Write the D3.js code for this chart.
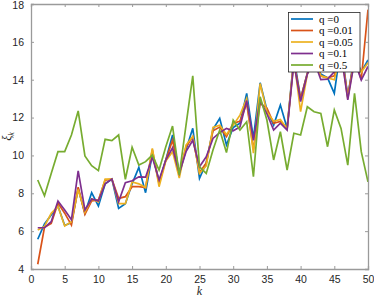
<!doctype html>
<html lang="en">
    <head>
        <meta charset="utf-8">
        <title>xi_k vs k</title>
        <style>
            body { margin: 0; background: #fff; }
        </style>
    </head>
    <body>
        <script src="https://cdnjs.cloudflare.com/ajax/libs/d3/7.8.5/d3.min.js"></script>
        <script>
            // series values, k = 1..50
            var ks = d3.range(1, 51);
            var q0 = [5.57, 6.38, 6.85, 7.33, 6.30, 6.45, 8.25, 6.95, 8.03, 7.33,
                      8.50, 8.75, 7.20, 7.45, 8.50, 9.37, 8.03, 10.10, 8.60, 9.76,
                      11.08, 9.05, 10.30, 11.43, 8.79, 9.60, 11.38, 11.96, 10.55, 11.48,
                      11.70, 13.28, 10.90, 13.84, 12.40, 11.60, 12.66, 11.43, 15.2, 13.0,
                      14.34, 15.0, 14.30, 14.10, 13.28, 15.8, 13.10, 15.3, 14.40, 15.04];
            var q001 = [4.25, 6.20, 6.41, 7.48, 6.95, 6.32, 8.32, 6.89, 7.60, 7.65,
                        8.70, 8.75, 7.73, 7.82, 8.35, 8.35, 8.30, 10.30, 8.50, 9.76,
                        10.80, 9.05, 10.45, 10.98, 9.10, 9.60, 11.30, 11.50, 11.00, 11.70,
                        11.80, 12.75, 10.30, 12.75, 12.50, 11.70, 11.80, 11.43, 15.0, 13.0,
                        14.34, 15.2, 14.20, 14.10, 14.20, 15.6, 13.10, 15.2, 14.00, 17.70];
            var q005 = [6.06, 6.25, 6.94, 7.30, 6.27, 6.50, 8.20, 7.00, 7.70, 7.55,
                        8.75, 8.75, 7.45, 7.45, 8.60, 8.50, 8.30, 10.37, 8.35, 9.70,
                        10.20, 8.80, 10.55, 11.00, 9.05, 9.45, 11.48, 11.60, 11.10, 11.60,
                        12.13, 13.00, 10.12, 13.80, 12.30, 11.80, 11.90, 11.40, 15.1, 12.31,
                        14.30, 15.1, 14.20, 14.10, 14.00, 15.5, 13.00, 15.1, 14.40, 14.90];
            var q01 = [6.18, 6.18, 6.50, 7.59, 7.12, 6.60, 9.18, 7.12, 7.70, 7.60,
                       8.50, 8.75, 7.55, 8.56, 8.66, 8.87, 8.85, 9.90, 8.70, 9.76,
                       10.40, 9.05, 10.20, 10.80, 9.40, 9.93, 10.90, 11.20, 11.43, 11.30,
                       11.50, 12.90, 10.80, 12.90, 12.20, 11.34, 11.70, 11.34, 14.9, 12.84,
                       14.30, 15.0, 14.00, 14.03, 14.42, 15.4, 12.93, 15.0, 13.98, 14.70];
            var q05 = [8.70, 7.87, 9.05, 10.20, 10.20, 11.08, 12.35, 9.97, 9.46, 9.20,
                       10.85, 10.78, 11.08, 8.74, 10.43, 9.49, 9.67, 10.02, 9.23, 10.46,
                       11.55, 8.97, 11.60, 14.20, 9.40, 9.05, 10.29, 11.34, 10.15, 11.87,
                       11.34, 11.78, 8.88, 13.10, 11.87, 9.76, 11.25, 9.23, 11.17, 11.08,
                       12.57, 12.31, 12.22, 10.46, 12.40, 11.43, 9.49, 13.28, 10.20, 8.60];

            var names = ["q =0", "q =0.01", "q =0.05", "q =0.1", "q =0.5"];
            var colors = ["#0072BD", "#D95319", "#EDB120", "#7E2F8E", "#77AC30"];
            var series = [q0, q001, q005, q01, q05];

            var xTicks = [0, 5, 10, 15, 20, 25, 30, 35, 40, 45, 50];
            var yTicks = [4, 6, 8, 10, 12, 14, 16, 18];

            var w = 374, h = 298;
            var padL = 31, padR = 368, padT = 4, padB = 269;

            var svg = d3.select("body").append("svg")
                .attr("width", w)
                .attr("height", h)
                .style("font-family", "Helvetica, Arial, 'Liberation Sans', sans-serif");

            var x = d3.scaleLinear().domain([0, 50]).range([padL, padR]);
            var y = d3.scaleLinear().domain([4, 18]).range([padB, padT]);

            // clip so lines stay inside the box
            svg.append("clipPath").attr("id", "plot")
                .append("rect")
                .attr("x", padL).attr("y", padT)
                .attr("width", padR - padL).attr("height", padB - padT);

            var line = d3.line()
                .x(function(d, i) { return x(ks[i]); })
                .y(function(d) { return y(d); });

            svg.append("g").attr("clip-path", "url(#plot)")
                .selectAll("path")
                .data(series)
                .enter()
                .append("path")
                .attr("d", line)
                .attr("fill", "none")
                .attr("stroke", function(d, i) { return colors[i]; })
                .attr("stroke-width", 1.7)
                .attr("stroke-linejoin", "miter");

            // axes, ticks pointing inward like matlab
            var axisColor = "#262626";
            var frameColor = "#9a9a9a";

            var gx = svg.append("g")
                .attr("transform", "translate(0," + padB + ")")
                .call(d3.axisBottom(x).tickValues(xTicks).tickSize(-3).tickPadding(7));
            var gxTop = svg.append("g")
                .attr("transform", "translate(0," + padT + ")")
                .call(d3.axisTop(x).tickValues(xTicks).tickSize(-3).tickFormat(""));
            var gy = svg.append("g")
                .attr("transform", "translate(" + padL + ",0)")
                .call(d3.axisLeft(y).tickValues(yTicks).tickSize(-3).tickPadding(7));
            var gyRight = svg.append("g")
                .attr("transform", "translate(" + padR + ",0)")
                .call(d3.axisRight(y).tickValues(yTicks).tickSize(-3).tickFormat(""));

            [gx, gxTop, gy, gyRight].forEach(function(g) {
                g.select(".domain").attr("stroke", frameColor).attr("stroke-width", 1.3);
                g.selectAll(".tick line").attr("stroke", frameColor);
                g.selectAll(".tick text")
                    .attr("fill", axisColor)
                    .style("font-size", "10.5px")
                    .style("font-family", "Helvetica, Arial, 'Liberation Sans', sans-serif");
            });
            // keep the top label inside the window
            gy.selectAll(".tick text").filter(function(d) { return d === 18; }).attr("y", 1.5);

            // axis labels
            svg.append("text")
                .attr("x", x(25))
                .attr("y", 295)
                .attr("text-anchor", "middle")
                .style("font-family", "'Liberation Serif', 'DejaVu Serif', serif")
                .style("font-style", "italic")
                .style("font-size", "12px")
                .attr("fill", axisColor)
                .text("k");

            var yl = svg.append("text")
                .attr("transform", "translate(11," + y(11) + ") rotate(-90)")
                .attr("text-anchor", "middle")
                .style("font-family", "'Liberation Serif', 'DejaVu Serif', serif")
                .style("font-style", "italic")
                .style("font-size", "12px")
                .attr("fill", axisColor);
            yl.append("tspan").text("ξ");
            yl.append("tspan").attr("dy", 3).style("font-size", "8px").text("k");

            // legend
            var lg = svg.append("g");
            lg.append("rect")
                .attr("x", 288.5).attr("y", 12.5)
                .attr("width", 71.5).attr("height", 59.5)
                .attr("fill", "#fff")
                .attr("stroke", "#262626")
                .attr("stroke-width", 0.8);

            var items = lg.selectAll("g.item")
                .data(names)
                .enter()
                .append("g")
                .attr("class", "item")
                .attr("transform", function(d, i) { return "translate(0," + (19 + i * 11.5) + ")"; });

            items.append("line")
                .attr("x1", 291).attr("x2", 313)
                .attr("stroke", function(d, i) { return colors[i]; })
                .attr("stroke-width", 1.7);

            items.append("text")
                .attr("x", 319)
                .attr("y", 3.5)
                .style("font-family", "'Liberation Serif', 'DejaVu Serif', serif")
                .style("font-size", "11px")
                .attr("fill", "#000")
                .text(function(d) { return d; });
        </script>
    </body>
</html>
